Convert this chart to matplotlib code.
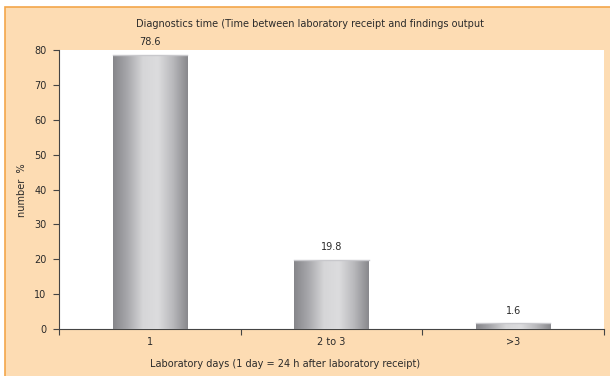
import numpy as np
import matplotlib.pyplot as plt
from matplotlib.patches import Rectangle
from matplotlib.colors import LinearSegmentedColormap

categories = ['1', '2 to 3', '>3']
values = [78.6, 19.8, 1.6]
value_labels = ['78.6', '19.8', '1.6']

title = 'Diagnostics time (Time between laboratory receipt and findings output'
xlabel = 'Laboratory days (1 day = 24 h after laboratory receipt)'
ylabel = 'number  %'

text_color = '#2a2a2a'
fs = 7.0

fig = plt.figure(figsize=(6.1, 3.76), dpi=100)
fig.patch.set_facecolor('white')

# peach chart area with orange top/left border (runs off the right and bottom)
bg = fig.add_axes([0, 0, 1, 1], zorder=0)
bg.set_xlim(0, 610)
bg.set_ylim(376, 0)
bg.axis('off')
bg.add_patch(Rectangle((5, 7), 700, 500, facecolor='#fddcb3', edgecolor='#f3a64a',
                       linewidth=1.2, clip_on=False))

ax = fig.add_axes([59 / 610, 47 / 376, 545 / 610, 279 / 376], zorder=1)
ax.set_facecolor('white')

x = np.arange(len(categories))
width = 0.41
bars = ax.bar(x, values, width, color='#b0b0b4', edgecolor='none', zorder=2)

# cylinder-style shading across each bar
shade = LinearSegmentedColormap.from_list(
    'shade', ['#86868a', '#a9a9ad', '#d6d6d8', '#dcdcde', '#b9b9bc', '#88888c'])
grad = np.linspace(0, 1, 256).reshape(1, -1)
for b in bars:
    x0, w, h = b.get_x(), b.get_width(), b.get_height()
    im = ax.imshow(grad, cmap=shade, aspect='auto', extent=(x0, x0 + w, 0, h),
                   zorder=3, interpolation='bilinear')
    im.set_clip_path(b)
    ax.plot([x0, x0 + w], [h, h], color='#c8c8cc', lw=1.0, zorder=4)

for xi, v, lab in zip(x, values, value_labels):
    ax.text(xi, v + 2.2, lab, ha='center', va='bottom', fontsize=fs, color=text_color)

ax.set_xlim(-0.5, 2.5)
ax.set_ylim(0, 80)
ax.set_yticks(np.arange(0, 81, 10))
ax.set_xticks([-0.5, 0.5, 1.5, 2.5])
ax.set_xticklabels([])
ax.set_xticks(x, minor=True)
ax.set_xticklabels(categories, minor=True)
ax.tick_params(axis='x', which='major', direction='out', length=4, color='#444444')
ax.tick_params(axis='x', which='minor', length=0, pad=6, labelsize=fs, labelcolor=text_color)
ax.tick_params(axis='y', direction='out', length=4, color='#444444', labelsize=fs,
               labelcolor=text_color, pad=5)

for side in ['top', 'right']:
    ax.spines[side].set_visible(False)
for side in ['left', 'bottom']:
    ax.spines[side].set_color('#444444')
    ax.spines[side].set_linewidth(0.8)

fig.text(310 / 610, 1 - 24 / 376, title, ha='center', va='center', fontsize=fs,
         color=text_color)
fig.text(285 / 610, 1 - 364 / 376, xlabel, ha='center', va='center', fontsize=fs,
         color=text_color)
fig.text(22 / 610, 1 - 190 / 376, ylabel, ha='center', va='center', rotation=90,
         fontsize=fs, color=text_color)

fig.savefig('out.png', dpi=100)
